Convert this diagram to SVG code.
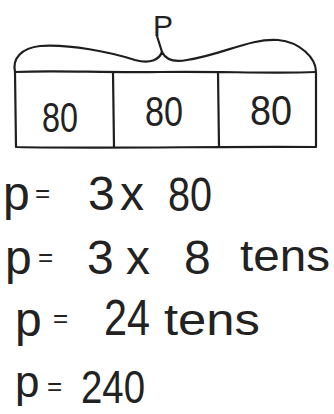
<svg xmlns="http://www.w3.org/2000/svg" width="334" height="414" viewBox="0 0 334 414">
<style>
.ln{fill:none;stroke:#1e1e1e;stroke-width:2.2;stroke-linecap:round;stroke-linejoin:round}
.t{font-family:"Liberation Sans",Arial,sans-serif;fill:#222}
.cell{font-size:42px}
.eq{font-size:48px}
.eqs{font-size:26px}
</style>
<rect width="334" height="414" fill="#fff"/>
<g id="brace">
<path class="ln" d="M15,72 C12,58 22,48 40,46 C70,44 110,52 135,60 C150,64 159,60 162,52 C165,58 172,63 187,60 C222,55 250,38 278,40 C300,42 316,58 316,72"/>
<text class="t" x="153" y="36" font-size="30">P</text>
</g>
<g id="connectors">
<path class="ln" d="M157,36 L162,52"/>
</g>
<g id="tape">
<path class="ln" d="M15,72 C60,70 100,73 160,72 C220,71 270,74 316,72"/>
<path class="ln" d="M15,72 L16,147 C110,149 220,146 316,147 L316,72"/>
<path class="ln" d="M113,72 L114,147"/>
<path class="ln" d="M218,72 L219,147"/>
</g>
<g id="cell1"><text class="t cell" x="42" y="132" textLength="36" lengthAdjust="spacingAndGlyphs">80</text></g>
<g id="cell2"><text class="t cell" x="145" y="126" textLength="38" lengthAdjust="spacingAndGlyphs">80</text></g>
<g id="cell3"><text class="t cell" x="250" y="125" textLength="42" lengthAdjust="spacingAndGlyphs">80</text></g>
<g id="eq1" class="t eq">
<text x="3" y="210">p</text><text class="eqs" x="35" y="202">=</text>
<text x="88" y="210">3</text><text x="120" y="210">x</text>
<text x="168" y="211" textLength="44" lengthAdjust="spacingAndGlyphs">80</text>
</g>
<g id="eq2" class="t eq">
<text x="5" y="274">p</text><text class="eqs" x="38" y="266">=</text>
<text x="87" y="274">3</text><text x="126" y="274">x</text><text x="184" y="274">8</text>
<text x="240" y="271" font-size="44" textLength="90" lengthAdjust="spacingAndGlyphs">tens</text>
</g>
<g id="eq3" class="t eq">
<text x="15" y="336">p</text><text class="eqs" x="53" y="327">=</text>
<text x="104" y="335" font-size="50" textLength="46" lengthAdjust="spacingAndGlyphs">24</text>
<text x="164" y="335" font-size="44" textLength="96" lengthAdjust="spacingAndGlyphs">tens</text>
</g>
<g id="eq4" class="t eq">
<text x="15" y="397" font-size="44">p</text><text class="eqs" x="47" y="395">=</text>
<text x="81" y="403" font-size="46" textLength="64" lengthAdjust="spacingAndGlyphs">240</text>
</g>
</svg>
